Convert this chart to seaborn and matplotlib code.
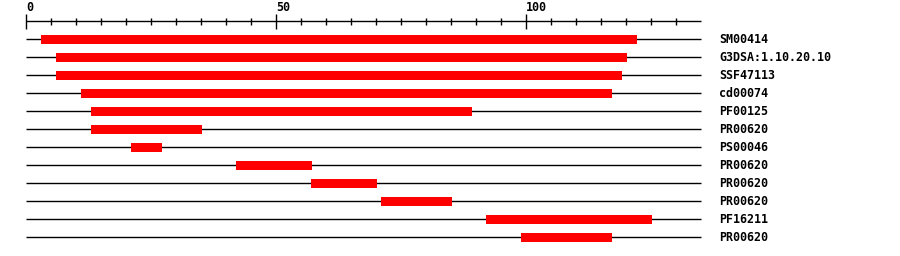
import matplotlib
matplotlib.use("Agg")
import matplotlib.pyplot as plt
import seaborn as sns
import pandas as pd

# --- data ---
labels = ["SM00414", "G3DSA:1.10.20.10", "SSF47113", "cd00074", "PF00125",
          "PR00620", "PS00046", "PR00620", "PR00620", "PR00620", "PF16211", "PR00620"]
starts = [3, 6, 6, 11, 13, 13, 21, 42, 57, 71, 92, 99]
ends = [122.2, 120.2, 119.2, 117.2, 89.2, 35.2, 27.2, 57.2, 70.2, 85.2, 125.2, 117.2]
seq_length = 135
tick_step = 5
major_ticks = [0, 50, 100]

df = pd.DataFrame({"label": labels, "start": starts, "end": ends})
df["row"] = range(len(df))
df["length"] = df["end"] - df["start"]

sns.set_theme(style="white")
plt.rcParams["font.family"] = ["DejaVu Sans Mono", "DejaVu Sans"]

fig = plt.figure(figsize=(9, 2.56), dpi=100)
ax = fig.add_axes([0, 0, 1, 1])
ax.set_xlim(-5.2, 174.8)
ax.set_ylim(12.04, -2.183)
ax.axis("off")

# backbone lines per row
ax.hlines(df["row"], 0, seq_length, color="black", linewidth=1.0, zorder=1)
# domains
ax.barh(df["row"], df["length"], left=df["start"], height=0.49,
        color="#ff0000", edgecolor="none", zorder=2)
# row labels
for r, lab in zip(df["row"], df["label"]):
    ax.text(138.6, r, lab, ha="left", va="center", fontsize=8.4,
            fontweight="bold", color="black")

# ruler on top
axis_y = -1.0
ax.hlines(axis_y, 0, seq_length, color="black", linewidth=1.0)
for t in range(0, seq_length, tick_step):
    if t in major_ticks:
        ax.vlines(t, -1.406, -0.572, color="black", linewidth=1.0)
        ax.text(t, -1.74, str(t), ha="left", va="center", fontsize=8.4,
                fontweight="bold", color="black")
    else:
        ax.vlines(t, -1.17, -0.794, color="black", linewidth=1.0)

fig.savefig("out.png", dpi=100)
